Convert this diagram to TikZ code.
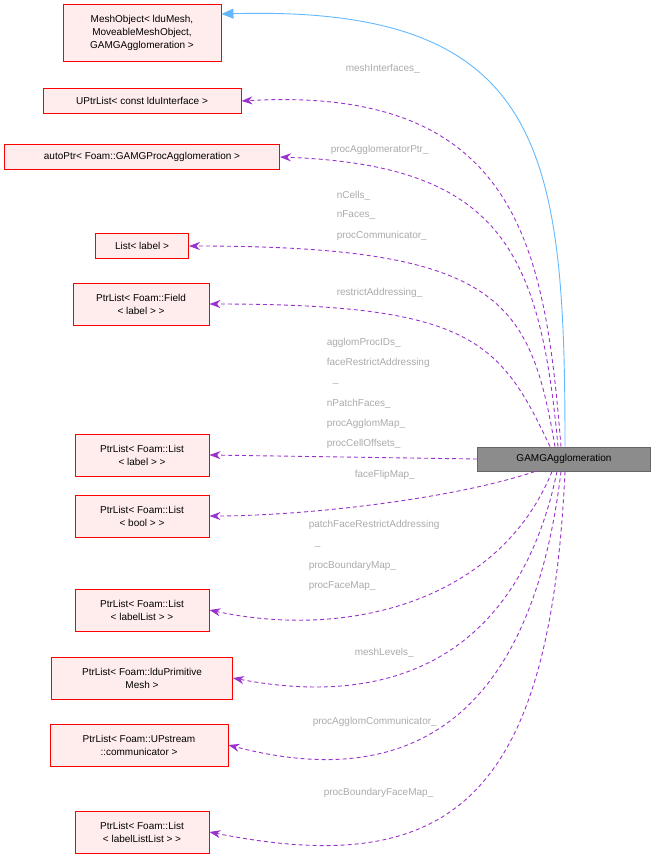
\documentclass[tikz,border=0pt]{standalone}
\usepackage{fontspec}
\setmainfont{Liberation Sans}
\usetikzlibrary{arrows.meta}
\begin{document}
\begin{tikzpicture}[x=1pt,y=-1pt,line width=0.9pt,
 box/.style={draw=red,fill=red!7,font=\fontsize{10}{13}\selectfont,align=center,inner sep=3pt,minimum height=25pt},
 two/.style={minimum height=42pt},
 dep/.style={draw={rgb,255:red,154;green,50;blue,205},dashed,dash pattern=on 4pt off 3pt,-{Stealth[length=11pt,width=8pt]}},
 lab/.style={text={rgb,255:red,170;green,170;blue,170},font=\fontsize{10}{12}\selectfont,anchor=west}]
\useasboundingbox (0,0) rectangle (656,854);
\node[box,minimum width=158pt,minimum height=57pt] (mo) at (142,33) {MeshObject< lduMesh,\\MoveableMeshObject,\\GAMGAgglomeration >};
\node[box,minimum width=198pt] (ui) at (142,101) {UPtrList< const lduInterface >};
\node[box,minimum width=275pt] (ap) at (142,157) {autoPtr< Foam::GAMGProcAgglomeration >};
\node[box,minimum width=93pt] (li) at (142,246) {List< label >};
\node[box,two,minimum width=136pt] (pf) at (141,304) {PtrList< Foam::Field\\< label > >};
\node[box,two,minimum width=134pt] (pl) at (142,455) {PtrList< Foam::List\\< label > >};
\node[box,two,minimum width=134pt] (pb) at (142,516) {PtrList< Foam::List\\< bool > >};
\node[box,two,minimum width=134pt] (pll) at (142,610) {PtrList< Foam::List\\< labelList > >};
\node[box,two,minimum width=181pt] (pi) at (142,678) {PtrList< Foam::lduPrimitive\\Mesh >};
\node[box,two,minimum width=178pt] (pu) at (139,745) {PtrList< Foam::UPstream\\::communicator >};
\node[box,two,minimum width=134pt] (plll) at (142,832) {PtrList< Foam::List\\< labelListList > >};
\node[draw=black!60,fill=black!45,font=\fontsize{10}{12}\selectfont,minimum width=173pt,minimum height=24pt,inner sep=2pt] (g) at (564,459) {GAMGAgglomeration};
\draw[draw={rgb,255:red,99;green,184;blue,255},-{Triangle[length=12pt,width=10pt,fill={rgb,255:red,99;green,184;blue,255}]}] ([xshift=1pt]g.north) .. controls (565,150) and (545,5) .. (mo.east|-0,14);
\draw[dep] ([xshift=-3pt]g.north) .. controls (545,250) and (520,85) .. (ui.east);
\draw[dep] ([xshift=-6pt]g.north) .. controls (540,250) and (500,165) .. (ap.east);
\draw[dep] ([xshift=-9pt]g.north) .. controls (530,300) and (500,246) .. (li.east);
\draw[dep] ([xshift=-14pt]g.north) .. controls (500,340) and (470,304) .. (pf.east);
\draw[dep] (g.west) -- (pl.east);
\draw[dep] ([xshift=-29pt]g.south) .. controls (450,500) and (300,516) .. (pb.east);
\draw[dep] ([xshift=-12pt]g.south) .. controls (500,600) and (350,640) .. (pll.east);
\draw[dep] ([xshift=-7pt]g.south) .. controls (520,650) and (400,710) .. (pi.east);
\draw[dep] ([xshift=-3pt]g.south) .. controls (530,730) and (400,790) .. (pu.east);
\draw[dep] ([xshift=1pt]g.south) .. controls (550,800) and (450,880) .. (plll.east);
\node[lab] (l1) at (342,69) {meshInterfaces\_};
\node[lab] (l2) at (327,150) {procAgglomeratorPtr\_};
\node[lab] (l3) at (333,196) {nCells\_};
\node[lab] (l4) at (333,215) {nFaces\_};
\node[lab] (l5) at (333,236) {procCommunicator\_};
\node[lab] (l6) at (333,293) {restrictAddressing\_};
\node[lab] (l7) at (323,343) {agglomProcIDs\_};
\node[lab] (l8) at (323,363) {faceRestrictAddressing};
\node[lab] (l9) at (329,383) {\_};
\node[lab] (l10) at (323,404) {nPatchFaces\_};
\node[lab] (l11) at (323,424) {procAgglomMap\_};
\node[lab] (l12) at (323,444) {procCellOffsets\_};
\node[lab] (l13) at (351,475) {faceFlipMap\_};
\node[lab] (l14) at (305,525) {patchFaceRestrictAddressing};
\node[lab] (l15) at (311,546) {\_};
\node[lab] (l16) at (305,566) {procBoundaryMap\_};
\node[lab] (l17) at (305,586) {procFaceMap\_};
\node[lab] (l18) at (351,653) {meshLevels\_};
\node[lab] (l19) at (309,722) {procAgglomCommunicator\_};
\node[lab] (l20) at (320,793) {procBoundaryFaceMap\_};
\end{tikzpicture}
\end{document}
